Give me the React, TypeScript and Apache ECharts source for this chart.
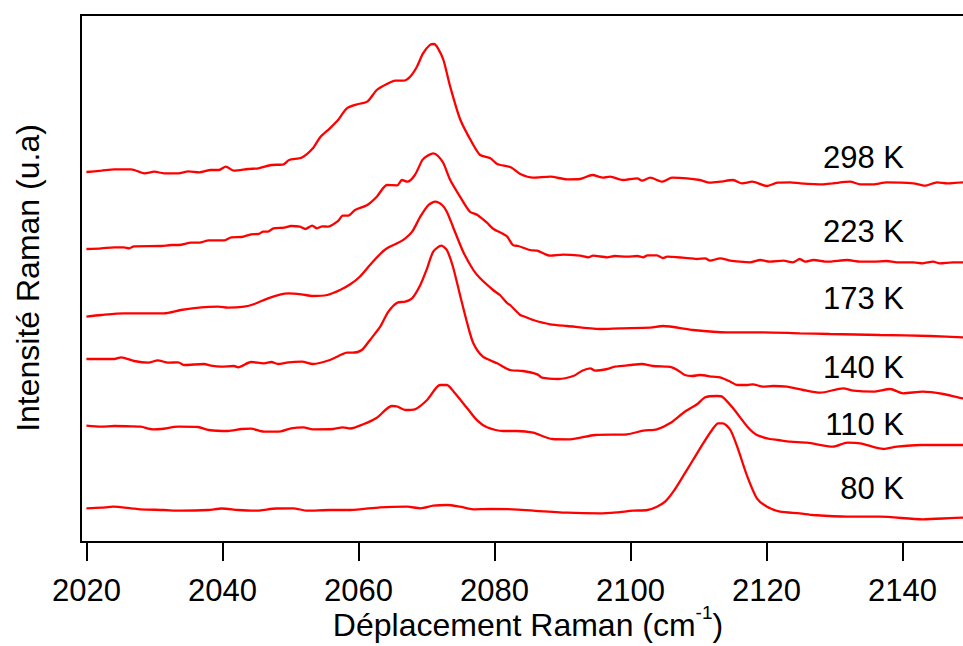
import React, { useEffect, useRef } from 'react';
import * as echarts from 'echarts';

const xTicks = [2020, 2040, 2060, 2080, 2100, 2120, 2140];
const tempLabels = ['298 K', '223 K', '173 K', '140 K', '110 K', '80 K'];

const s298: [number, number][] = [[2020,370],[2022.2,371.3],[2024.1,372.7],[2026.6,372.7],[2028.5,368.7],[2030,370.3],[2031.4,368.7],[2033.5,368.7],[2035,370.7],[2036.6,369.7],[2038.3,372],[2039.5,372],[2040.5,375.3],[2041.7,371.3],[2043.8,373],[2045.3,373.7],[2047.2,377],[2049,377.7],[2049.8,382],[2051.7,384.5],[2053.3,393.7],[2054.4,405],[2055.8,413.7],[2057,422],[2058.3,433.7],[2060,438],[2061.3,440.3],[2062.7,452],[2064.2,458],[2065.4,461.3],[2066.6,461.3],[2067.6,465.3],[2068.6,475.3],[2069.5,488.7],[2070.5,497],[2071.1,498],[2071.7,493.7],[2072.5,482],[2073.5,455.3],[2075,422],[2076.9,397],[2077.9,387],[2079.4,383.7],[2080.4,378],[2082.4,374.7],[2083.8,368],[2085.7,364.3],[2088.2,365.3],[2090.7,362.7],[2092.6,363],[2094.4,367],[2096,364.3],[2097,365.3],[2098.9,362],[2101,363.7],[2101.7,361.3],[2102.9,364.3],[2104.7,360.3],[2106.1,364.3],[2108.3,363.7],[2110.2,362],[2111.7,359.3],[2113.2,360.3],[2115.1,362],[2116.4,358.7],[2117.9,360.3],[2120.1,356],[2121.6,359.3],[2123.5,359.7],[2125,358.7],[2128.3,357.7],[2129.8,358.7],[2132.3,360.3],[2133.8,357.7],[2135.7,357.7],[2137.7,359.7],[2141.6,358.7],[2143.3,356.3],[2145.1,359.7],[2146.6,358.7],[2148.9,359.7],[2152,359]];

const s223: [number, number][] = [[2020,293],[2022.2,293.7],[2024.1,294.7],[2025.5,294.7],[2026.3,293.7],[2027,295.7],[2031,296],[2032.5,297],[2033.6,297],[2035.4,299.3],[2036.6,299.3],[2038,301.7],[2040.3,301.7],[2041.3,304.7],[2042.8,305],[2044.2,307.7],[2045.3,308],[2046,310.3],[2046.7,310.3],[2047.5,313.7],[2049.1,314.3],[2050.1,316],[2051.4,315.3],[2052.2,313],[2053.2,316.3],[2053.9,313.7],[2054.7,315.7],[2055.5,315.3],[2057,321],[2057.7,326.3],[2058.5,326.3],[2059.5,332],[2061.3,337],[2062.7,345.3],[2064.2,357],[2065.7,356.7],[2066.4,362],[2067.2,360.3],[2068.3,367],[2069.4,382],[2070.1,386],[2071,388.7],[2071.7,386],[2072.5,378.7],[2073.5,362],[2075,344.7],[2076.4,330.3],[2077.5,327],[2078.9,319.3],[2079.8,313.3],[2081.3,308],[2081.9,305.3],[2082.7,297],[2083.5,296],[2085.2,292],[2086.3,291.3],[2088.2,286.3],[2090.1,287.3],[2092.6,286.3],[2093.8,284.7],[2094.5,286.3],[2096.6,284.7],[2097.7,286],[2099.5,285.3],[2101,286],[2101.9,284.7],[2102.5,286.7],[2103.9,286.7],[2104.8,284],[2105.4,285.3],[2107.7,284.3],[2109.8,283],[2111,283.7],[2111.7,281.3],[2113.2,283.7],[2114.7,281.3],[2116.1,280.3],[2117.6,279.7],[2119.1,282],[2120.5,280.3],[2122.5,281.3],[2123.9,279.7],[2124.9,283],[2125.7,280.3],[2126.9,282],[2129,280.3],[2131.9,282],[2133.8,280.3],[2135.7,280.3],[2137.7,281],[2139.2,279.7],[2141.6,279.7],[2143,278.7],[2144.5,280.3],[2145.5,278.7],[2147.4,279.7],[2148.9,279.7],[2152,279.7]];

const s173: [number, number][] = [[2020,225.3],[2022.2,227],[2025.5,228.7],[2031.4,228.7],[2033.9,232],[2036.9,234.7],[2039.4,235.3],[2040.8,234.3],[2043.2,235.3],[2044.7,238],[2046.7,243.7],[2048.6,247.7],[2049.7,248.7],[2051.6,247.7],[2053.3,246],[2055.4,247],[2057.3,252],[2058.8,257.7],[2060.2,265.3],[2061.7,277],[2063.2,288],[2064.2,293.7],[2065.7,298.7],[2066.9,303.7],[2067.9,310.3],[2069.1,325.3],[2070.3,337],[2071.3,340.3],[2072.3,337],[2073,330.3],[2073.9,315.3],[2075.4,290.3],[2076.9,272],[2077.9,263.7],[2079.8,252],[2080.8,247],[2081.9,238.7],[2082.3,237],[2083.8,227],[2084.2,226],[2085.7,222],[2088.2,217.7],[2090.7,216],[2095.5,213],[2098.5,213.7],[2102.9,214.3],[2104.8,216],[2109.2,212],[2114.2,209.7],[2119.5,209.7],[2124.9,208.7],[2129.3,208],[2136.7,207],[2144,206],[2148.9,204.7],[2152,204.5]];

const s140: [number, number][] = [[2020,183],[2022.2,183],[2024.1,183],[2025.1,184.7],[2027,181],[2029.1,179.3],[2030.5,181.7],[2032,179.3],[2033.5,179.7],[2034.4,177],[2037.3,178],[2038.3,176.3],[2039.8,175.3],[2041.7,176],[2042.3,174.7],[2044.2,180],[2046.1,178.7],[2047.2,180],[2048.2,178],[2049.7,179.7],[2051.7,180.3],[2053.3,178],[2055.8,182],[2057.6,187.7],[2058.3,189.3],[2059.2,189.3],[2060.5,192],[2061.7,202],[2063.2,215.3],[2064.4,230.3],[2065.7,239.3],[2066.9,240.3],[2067.9,243.7],[2069.1,257],[2070.1,273.7],[2071,290.3],[2072.2,296.3],[2073,292],[2073.9,275.3],[2075,245.3],[2076,218.7],[2076.9,198.7],[2078.3,185.3],[2080.4,178.7],[2082.3,172],[2084.2,171],[2086.3,167.7],[2087,164.3],[2089.4,163],[2091.6,166],[2092.9,171.3],[2094.1,173.7],[2094.8,171.3],[2096.6,173],[2097.7,175.3],[2100,177],[2101.7,178],[2103.3,176],[2105.4,175.3],[2106.1,174.7],[2106.9,172],[2108,167],[2109.1,166],[2110.2,167],[2112.1,165.3],[2113.2,164.7],[2114.7,160.3],[2115.7,157],[2117.2,157],[2118,157.7],[2119.5,155.3],[2121,156],[2123,155.3],[2125.4,152],[2127.9,149.3],[2131.3,153.7],[2132.8,151.3],[2135.7,150.3],[2138.2,153],[2140.1,148.7],[2143,150.3],[2146,148],[2148.9,143.7],[2152,142]];

const s110: [number, number][] = [[2020,116.3],[2022.2,115.3],[2024.1,116],[2026.6,115.7],[2028,115.3],[2029.8,112.7],[2031,113],[2033.5,115.3],[2036.4,115],[2038,112],[2040.8,111],[2042.8,113],[2044.2,113.3],[2046.1,110.3],[2048.6,110.7],[2050.1,113.7],[2051.9,114.7],[2053.3,112.7],[2056.3,113],[2057.7,114.7],[2058.8,113.5],[2060.7,117.7],[2062.7,124.3],[2064.9,136],[2065.7,135.5],[2066.9,132],[2068.3,132.7],[2070.1,142],[2072,157],[2073,157],[2074.2,148.7],[2076,133.7],[2077.5,121.3],[2078.9,114.7],[2081.3,111],[2083.3,111],[2085.7,109.3],[2088.5,103],[2091.1,102.7],[2094.8,107],[2099.5,107.7],[2101.9,111.3],[2103.9,112.7],[2105.8,118.7],[2108,130.3],[2109.8,137.7],[2111,144.7],[2112.7,146],[2113.5,145.3],[2115.1,133.7],[2117.2,115.3],[2118.6,107],[2120.5,103],[2121.7,102],[2123.5,100.3],[2126,99.3],[2129.8,95.3],[2131.9,99.3],[2133.8,98.7],[2137.2,93],[2139.2,95.3],[2142.6,97],[2148.9,97],[2152,97]];

const s80: [number, number][] = [[2020,33.7],[2022.2,34.3],[2023.9,35.3],[2026.6,33.7],[2027.9,32.7],[2031.4,32],[2033.9,31.3],[2037.9,32],[2039.9,33.5],[2042.3,32],[2044.7,31.3],[2047.9,33.5],[2050.4,33.7],[2052.5,31.3],[2055.8,32],[2058.8,32],[2063.2,34.7],[2067.2,35.3],[2069.1,33.7],[2071,36.3],[2073,37],[2074.9,35.3],[2076.9,32.7],[2079.4,33],[2082.7,32.7],[2085.7,31.3],[2090.7,29.3],[2095.5,28.7],[2098,29.7],[2100.4,31.3],[2102.5,32],[2103.9,35.3],[2105.1,40.3],[2106.3,50.3],[2107.7,65.3],[2109.2,82],[2110.7,98.7],[2112,112],[2112.9,118.7],[2113.6,118.7],[2114.7,112],[2115.7,95.3],[2117.2,65.3],[2118.6,43.7],[2120.1,35.3],[2122,30.3],[2124.9,28.7],[2126.9,27],[2131.9,25.3],[2136.7,25.3],[2143,22.7],[2148.9,24.3],[2152,24]];

const seriesData = [s298, s223, s173, s140, s110, s80];

// layout (pixels)
const LABEL_RIGHT = 904;
const LABEL_Y = [157, 231, 298, 367, 424, 488];
const FONT = "'Liberation Sans', Arial, Helvetica, sans-serif";

export default function App() {
  const ref = useRef<HTMLDivElement>(null);
  useEffect(() => {
    const chart = echarts.init(ref.current as HTMLDivElement, null, { renderer: 'svg' });
    const graphic: any[] = tempLabels.map((t, i) => ({
      type: 'text',
      x: LABEL_RIGHT,
      y: LABEL_Y[i],
      style: {
        text: t, fontSize: 31, fontFamily: FONT, fill: '#000',
        align: 'right', verticalAlign: 'middle', textAlign: 'right', textVerticalAlign: 'middle',
      },
    }));
    graphic.push({
      type: 'text',
      x: 28,
      y: 278,
      rotation: Math.PI / 2,
      style: {
        text: 'Intensité Raman (u.a)', fontSize: 32, fontFamily: FONT, fill: '#000',
        align: 'center', verticalAlign: 'middle', textAlign: 'center', textVerticalAlign: 'middle',
      },
    });
    graphic.push({
      type: 'text',
      x: 528,
      y: 622,
      style: {
        text: '{a|Déplacement Raman (cm}{b|-1}{a|)}',
        align: 'center', verticalAlign: 'middle', textAlign: 'center', textVerticalAlign: 'middle',
        rich: {
          a: { fontSize: 32, fontFamily: FONT, fill: '#000', color: '#000', lineHeight: 38, verticalAlign: 'bottom' },
          b: { fontSize: 19, fontFamily: FONT, fill: '#000', color: '#000', lineHeight: 19, verticalAlign: 'top' },
        },
      },
    });
    chart.setOption({
      animation: false,
      grid: {
        left: 81, top: 15, right: 0, bottom: 104,
        show: true, borderColor: '#000', borderWidth: 2, backgroundColor: 'transparent',
      },
      xAxis: {
        type: 'value', min: 2019.2, max: 2151.85,
        axisLine: { show: true, lineStyle: { color: '#000', width: 2 } },
        axisTick: { show: true, customValues: xTicks, length: 19, lineStyle: { color: '#000', width: 2 } },
        axisLabel: {
          customValues: xTicks, margin: 33, fontSize: 31, color: '#000', fontFamily: FONT,
          formatter: (v: number) => String(Math.round(v)),
        },
        splitLine: { show: false },
      },
      yAxis: { type: 'value', min: 0, max: 527, show: false, splitLine: { show: false } },
      series: seriesData.map((d, i) => ({
        type: 'line',
        name: tempLabels[i],
        data: d,
        showSymbol: false,
        symbol: 'none',
        smooth: 0.25,
        lineStyle: { color: '#ff0000', width: 2.3 },
        itemStyle: { color: '#ff0000' },
      })),
      graphic,
    });
    return () => chart.dispose();
  }, []);
  return (
    <div style={{ position: 'absolute', left: 0, top: 0, width: 963, height: 646, overflow: 'hidden' }}>
      <div ref={ref} style={{ position: 'absolute', left: 0, top: 0, width: 983, height: 646 }} />
    </div>
  );
}
